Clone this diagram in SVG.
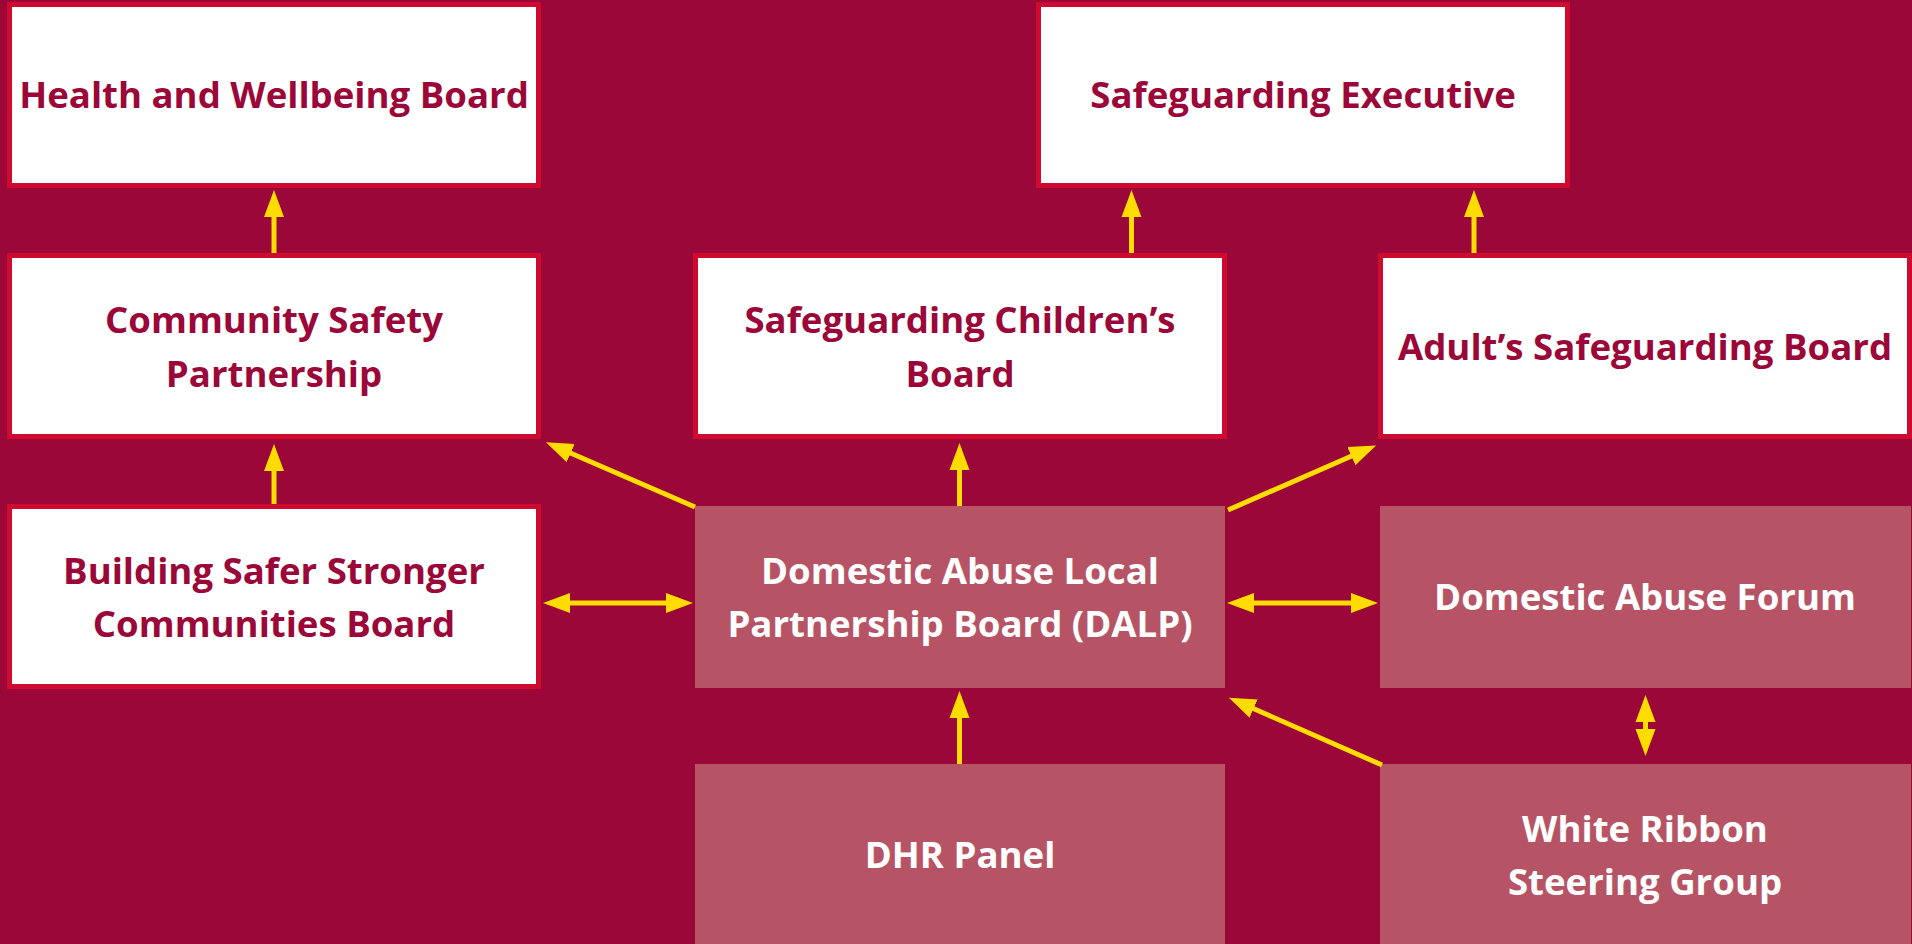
<svg xmlns="http://www.w3.org/2000/svg" width="1912" height="944" viewBox="0 0 1912 944">
<style>
.bg{fill:#9A0738}
.wbox{fill:#FFFFFF;stroke:#CE0A2F;stroke-width:5}
.pbox{fill:#B65466}
text{font-family:"Open Sans","Liberation Sans",sans-serif;font-weight:700;font-size:36.6px;text-anchor:middle}
.dt{fill:#9A0738}
.lt{fill:#FFFFFF}
.arr{stroke:#FFDC00;stroke-width:5;fill:none;marker-end:url(#ah)}
.dbl{stroke:#FFDC00;stroke-width:5;fill:none;marker-end:url(#ah);marker-start:url(#ah)}
</style>
<defs>
<marker id="ah" markerUnits="userSpaceOnUse" markerWidth="30" markerHeight="24" viewBox="0 -12 30 24" refX="1" refY="0" orient="auto-start-reverse">
<path d="M0,-10 L27,0 L0,10 z" fill="#FFDC00"/>
</marker>
</defs>
<rect class="bg" x="0" y="0" width="1912" height="944"/>

<g id="health">
<rect class="wbox" x="9.5" y="4.5" width="529" height="181"/>
<text class="dt" x="274" y="108">Health and Wellbeing Board</text>
</g>
<g id="exec">
<rect class="wbox" x="1038.5" y="4.5" width="529" height="181"/>
<text class="dt" x="1303" y="108">Safeguarding Executive</text>
</g>
<g id="csp">
<rect class="wbox" x="9.5" y="255.5" width="529" height="181"/>
<text class="dt" x="274" y="333">Community Safety</text>
<text class="dt" x="274" y="387">Partnership</text>
</g>
<g id="scb">
<rect class="wbox" x="695.5" y="255.5" width="529" height="181"/>
<text class="dt" x="960" y="333">Safeguarding Children’s</text>
<text class="dt" x="960" y="387">Board</text>
</g>
<g id="asb">
<rect class="wbox" x="1380.5" y="255.5" width="529" height="181"/>
<text class="dt" x="1645" y="360">Adult’s Safeguarding Board</text>
</g>
<g id="bssc">
<rect class="wbox" x="9.5" y="506.5" width="529" height="180"/>
<text class="dt" x="274" y="584">Building Safer Stronger</text>
<text class="dt" x="274" y="637">Communities Board</text>
</g>
<g id="dalp">
<rect class="pbox" x="695" y="506" width="530" height="182"/>
<text class="lt" x="960" y="584">Domestic Abuse Local</text>
<text class="lt" x="960" y="637">Partnership Board (DALP)</text>
</g>
<g id="daf">
<rect class="pbox" x="1380" y="506" width="531" height="182"/>
<text class="lt" x="1645" y="610">Domestic Abuse Forum</text>
</g>
<g id="dhr">
<rect class="pbox" x="695" y="764" width="530" height="182"/>
<text class="lt" x="960" y="868">DHR Panel</text>
</g>
<g id="wrsg">
<rect class="pbox" x="1380" y="764" width="531" height="182"/>
<text class="lt" x="1645" y="842">White Ribbon</text>
<text class="lt" x="1645" y="895">Steering Group</text>
</g>

<g id="connectors">
<line class="arr" x1="274" y1="253" x2="274" y2="216"/>
<line class="arr" x1="274" y1="504" x2="274" y2="470"/>
<line class="arr" x1="1131.5" y1="253" x2="1131.5" y2="216"/>
<line class="arr" x1="1474" y1="253" x2="1474" y2="216"/>
<line class="arr" x1="959.5" y1="506" x2="959.5" y2="469"/>
<line class="arr" x1="959.5" y1="764" x2="959.5" y2="717"/>
<line class="arr" x1="695" y1="507" x2="569.8" y2="452.7"/>
<line class="arr" x1="1228" y1="510" x2="1352.3" y2="455.8"/>
<line class="arr" x1="1382" y1="765" x2="1252.7" y2="708.3"/>
<line class="dbl" x1="569" y1="603" x2="667" y2="603"/>
<line class="dbl" x1="1253" y1="603" x2="1352" y2="603"/>
<line class="dbl" x1="1645.5" y1="721" x2="1645.5" y2="730"/>
</g>
</svg>
